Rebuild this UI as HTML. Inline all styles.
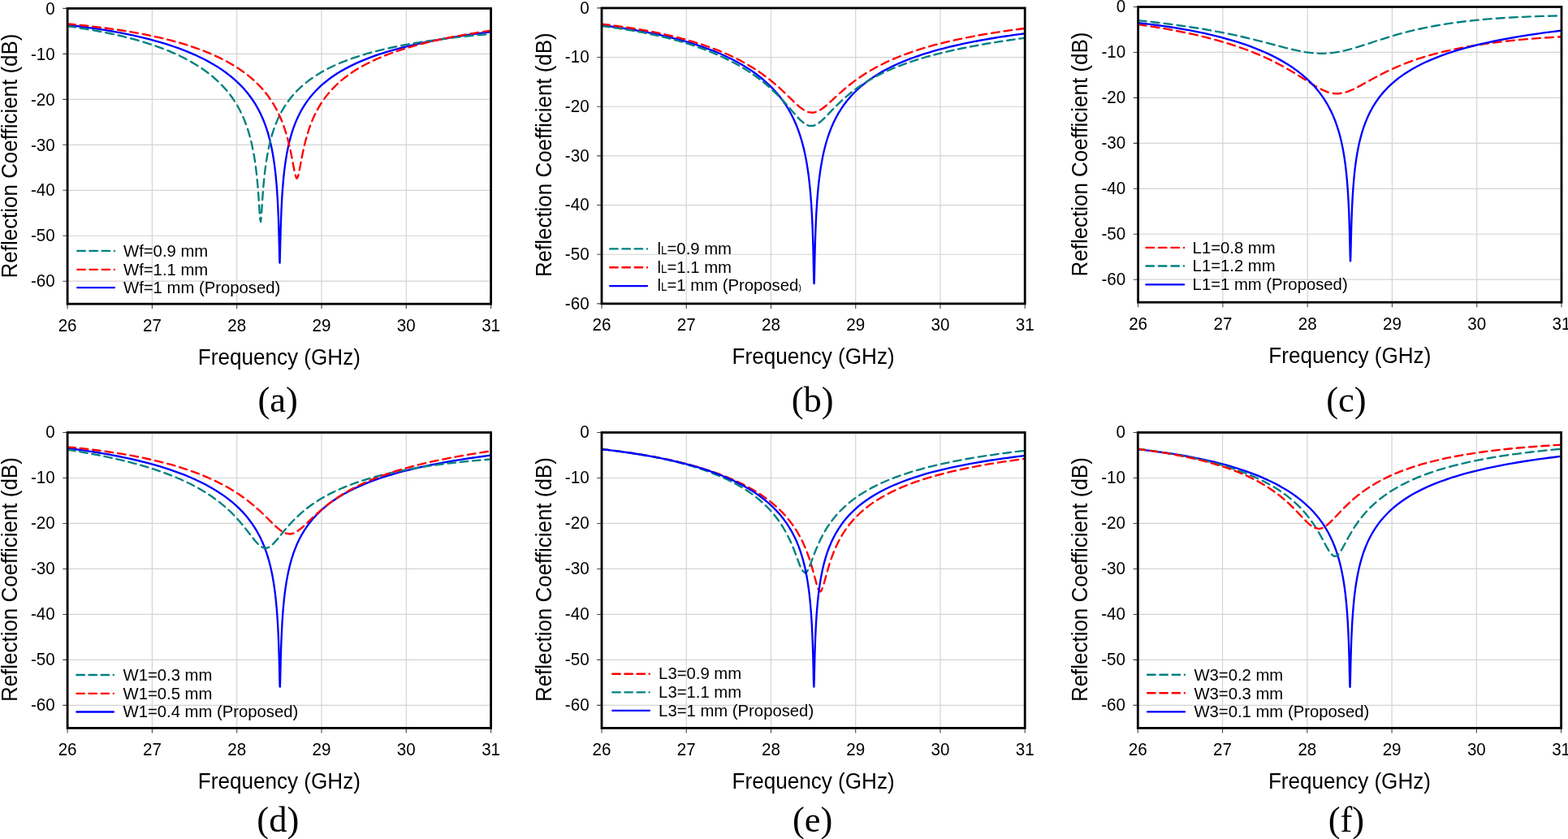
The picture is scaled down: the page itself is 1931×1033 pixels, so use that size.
<!DOCTYPE html>
<html lang="en"><head><meta charset="utf-8"><title>Reflection coefficient parametric study</title>
<style>html,body{margin:0;padding:0;background:#fff;overflow:hidden}svg{display:block}text{font-family:"Liberation Sans",Arial,Helvetica,sans-serif;fill:#000}.cap{font-family:"Liberation Serif","Times New Roman",serif}</style></head><body>
<svg width="1931" height="1033" viewBox="0 0 1931 1033">
<rect width="1931" height="1033" fill="#fff"/>
<g id="chart-a">
<clipPath id="clip-a"><rect x="83.1" y="10.4" width="521.5" height="363.8"/></clipPath>
<path d="M187.4 10.4V374.2M291.7 10.4V374.2M396 10.4V374.2M500.3 10.4V374.2M83.1 66.37H604.6M83.1 122.34H604.6M83.1 178.31H604.6M83.1 234.28H604.6M83.1 290.25H604.6M83.1 346.22H604.6" stroke="#d4d4d4" stroke-width="1.2" fill="none"/>
<path d="M83.1 374.2v6.0M187.4 374.2v6.0M291.7 374.2v6.0M396 374.2v6.0M500.3 374.2v6.0M604.6 374.2v6.0M83.1 10.4h-5.8M83.1 66.37h-5.8M83.1 122.34h-5.8M83.1 178.31h-5.8M83.1 234.28h-5.8M83.1 290.25h-5.8M83.1 346.22h-5.8" stroke="#444" stroke-width="1.1" fill="none"/>
<g clip-path="url(#clip-a)" fill="none" stroke-width="2.35" stroke-linejoin="round">
<path d="M83.10 30.76 L89.36 31.47 L95.62 32.23 L101.87 33.02 L108.13 33.86 L114.39 34.74 L120.65 35.66 L126.91 36.64 L133.16 37.66 L139.42 38.74 L145.68 39.88 L151.94 41.08 L158.20 42.35 L164.45 43.68 L170.71 45.09 L176.97 46.58 L183.23 48.15 L189.49 49.81 L195.74 51.56 L202.00 53.42 L208.26 55.40 L214.52 57.49 L220.78 59.71 L227.03 62.08 L233.29 64.61 L239.55 67.30 L245.81 70.20 L252.07 73.30 L258.32 76.65 L263.54 79.65 L268.75 82.87 L273.97 86.33 L279.18 90.07 L284.40 94.14 L289.61 98.59 L294.66 103.32 L299.00 107.80 L303.17 112.53 L307.11 117.46 L310.74 122.49 L314.14 127.70 L317.29 133.10 L320.22 138.70 L322.93 144.51 L325.43 150.56 L327.73 156.87 L329.84 163.44 L331.76 170.32 L333.23 176.30 L334.58 182.53 L335.82 189.03 L336.95 195.81 L337.98 202.92 L338.91 210.36 L339.58 216.59 L340.20 223.07 L340.72 229.22 L341.28 236.87 L341.75 244.22 L342.16 251.87 L342.54 259.82 L342.79 265.96 L343.02 272.23 L343.22 278.58 L343.41 284.95 L343.58 291.24 L343.73 297.33 L343.90 304.83 L344.05 311.25 L344.19 317.25 L344.42 323.32 L344.54 323.67 L344.80 317.27 L344.98 309.80 L345.13 303.08 L345.31 295.39 L345.47 289.23 L345.64 282.90 L345.84 276.54 L346.05 270.23 L346.29 264.01 L346.55 257.94 L346.93 250.08 L347.36 242.54 L347.83 235.30 L348.36 228.36 L348.94 221.72 L349.57 215.34 L350.26 209.22 L351.15 202.35 L352.04 196.30 L353.17 189.59 L354.41 183.17 L355.76 177.03 L357.23 171.14 L359.15 164.39 L361.26 157.95 L363.56 151.79 L366.06 145.90 L368.77 140.26 L371.70 134.84 L374.86 129.64 L378.25 124.64 L381.88 119.84 L385.77 115.21 L389.92 110.75 L394.33 106.45 L399.13 102.23 L404.34 98.06 L409.56 94.27 L414.77 90.80 L419.99 87.61 L426.25 84.09 L432.51 80.86 L438.76 77.88 L445.02 75.13 L451.28 72.57 L457.54 70.18 L463.79 67.95 L470.05 65.86 L476.31 63.89 L482.57 62.03 L488.83 60.28 L495.08 58.63 L501.34 57.05 L507.60 55.56 L513.86 54.14 L520.12 52.79 L526.38 51.51 L532.63 50.28 L538.89 49.10 L545.15 47.98 L551.41 46.90 L557.67 45.87 L563.92 44.87 L570.18 43.92 L576.44 43.00 L582.70 42.12 L588.96 41.27 L595.21 40.45 L601.47 39.66 L604.60 39.28" stroke="#0000ff"/>
<path d="M83.10 32.26 L89.36 33.14 L95.62 34.07 L101.87 35.05 L108.13 36.07 L114.39 37.15 L120.65 38.29 L126.91 39.49 L133.16 40.76 L139.42 42.09 L145.68 43.50 L151.94 44.98 L158.20 46.55 L164.45 48.20 L170.71 49.96 L176.97 51.81 L183.23 53.78 L189.49 55.86 L195.74 58.08 L202.00 60.44 L208.26 62.95 L214.52 65.64 L220.78 68.51 L227.03 71.60 L233.29 74.93 L238.51 77.91 L243.72 81.09 L248.94 84.52 L254.15 88.21 L259.37 92.22 L264.58 96.60 L269.53 101.15 L273.97 105.62 L278.14 110.23 L282.25 115.23 L285.97 120.23 L289.44 125.41 L292.67 130.76 L295.68 136.31 L298.46 142.06 L301.03 148.03 L303.40 154.23 L305.57 160.69 L307.34 166.68 L309.07 173.25 L310.46 179.30 L311.75 185.56 L312.92 192.06 L313.99 198.80 L314.95 205.77 L315.69 211.75 L316.46 218.86 L317.04 224.85 L317.57 230.89 L318.04 236.90 L318.57 244.26 L319.03 251.19 L319.42 257.42 L319.82 263.56 L320.27 269.59 L321.08 273.15 L321.77 266.79 L322.18 260.81 L322.61 253.94 L323.05 247.29 L323.55 240.11 L324.03 233.73 L324.63 226.69 L325.35 219.26 L326.12 212.22 L327.04 204.90 L328.03 198.07 L329.12 191.47 L330.29 185.22 L331.61 179.02 L333.03 173.15 L334.90 166.39 L336.94 159.93 L339.18 153.76 L341.61 147.85 L344.25 142.18 L347.11 136.75 L350.19 131.54 L353.50 126.54 L357.41 121.27 L361.51 116.35 L365.62 111.93 L369.93 107.73 L375.14 103.16 L380.36 99.05 L385.57 95.32 L390.78 91.91 L396.00 88.79 L402.26 85.35 L408.52 82.22 L414.77 79.34 L421.03 76.68 L427.29 74.22 L433.55 71.94 L439.81 69.82 L446.06 67.83 L452.32 65.98 L458.58 64.23 L464.84 62.60 L471.10 61.06 L477.35 59.61 L483.61 58.23 L489.87 56.94 L496.13 55.71 L502.39 54.55 L508.64 53.44 L514.90 52.40 L521.16 51.40 L527.42 50.45 L533.68 49.55 L539.93 48.69 L546.19 47.87 L552.45 47.08 L558.71 46.34 L564.97 45.62 L571.22 44.94 L577.48 44.28 L583.74 43.66 L590.00 43.06 L596.26 42.48 L602.51 41.93 L604.60 41.75" stroke="#008080" stroke-dasharray="9.88 6.01" stroke-linecap="round"/>
<path d="M83.10 29.38 L89.36 29.96 L95.62 30.58 L101.87 31.22 L108.13 31.90 L114.39 32.62 L120.65 33.37 L126.91 34.15 L133.16 34.98 L139.42 35.86 L145.68 36.78 L151.94 37.74 L158.20 38.76 L164.45 39.83 L170.71 40.96 L176.97 42.16 L183.23 43.41 L189.49 44.74 L195.74 46.14 L202.00 47.62 L208.26 49.18 L214.52 50.84 L220.78 52.59 L227.03 54.45 L233.29 56.43 L239.55 58.53 L245.81 60.76 L252.07 63.15 L258.32 65.70 L264.58 68.43 L270.84 71.37 L277.10 74.53 L283.36 77.96 L288.57 81.04 L293.79 84.36 L299.00 87.94 L304.22 91.83 L309.43 96.08 L314.17 100.31 L318.68 104.72 L322.92 109.28 L326.89 113.98 L330.61 118.83 L334.08 123.84 L337.31 129.01 L340.32 134.35 L343.10 139.86 L345.67 145.55 L348.02 151.36 L350.11 157.12 L352.19 163.58 L354.00 169.85 L355.63 176.19 L357.10 182.53 L358.42 188.75 L359.59 194.73 L360.79 201.17 L361.95 207.47 L363.21 213.79 L365.13 219.51 L365.96 219.52 L366.95 217.43 L368.41 211.38 L369.55 205.40 L370.79 198.68 L372.01 192.28 L373.31 185.94 L374.70 179.70 L376.18 173.68 L377.97 167.15 L379.87 161.00 L381.94 154.98 L384.21 149.12 L386.61 143.58 L389.35 137.94 L392.25 132.61 L395.36 127.47 L399.13 121.91 L402.93 116.90 L406.82 112.28 L410.97 107.81 L415.38 103.50 L419.99 99.40 L425.20 95.18 L430.42 91.34 L435.63 87.81 L440.85 84.56 L446.06 81.55 L452.32 78.21 L458.58 75.13 L464.84 72.27 L471.10 69.62 L477.35 67.14 L483.61 64.82 L489.87 62.65 L496.13 60.60 L502.39 58.67 L508.64 56.85 L514.90 55.13 L521.16 53.49 L527.42 51.94 L533.68 50.46 L539.93 49.05 L546.19 47.71 L552.45 46.43 L558.71 45.20 L564.97 44.03 L571.22 42.91 L577.48 41.83 L583.74 40.80 L590.00 39.80 L596.26 38.85 L602.51 37.93 L604.60 37.63" stroke="#ff0000" stroke-dasharray="9.68 5.89" stroke-linecap="round"/>
</g>
<rect x="83.1" y="10.4" width="521.5" height="363.8" fill="none" stroke="#000" stroke-width="2.8"/>
<text transform="translate(83.1 407.6) scale(1 1.09)" font-size="20.6" text-anchor="middle">26</text>
<text transform="translate(187.4 407.6) scale(1 1.09)" font-size="20.6" text-anchor="middle">27</text>
<text transform="translate(291.7 407.6) scale(1 1.09)" font-size="20.6" text-anchor="middle">28</text>
<text transform="translate(396 407.6) scale(1 1.09)" font-size="20.6" text-anchor="middle">29</text>
<text transform="translate(500.3 407.6) scale(1 1.09)" font-size="20.6" text-anchor="middle">30</text>
<text transform="translate(604.6 407.6) scale(1 1.09)" font-size="20.6" text-anchor="middle">31</text>
<text transform="translate(67.7 17.6) scale(1 1.09)" font-size="20.6" text-anchor="end">0</text>
<text transform="translate(67.7 73.57) scale(1 1.09)" font-size="20.6" text-anchor="end">-10</text>
<text transform="translate(67.7 129.54) scale(1 1.09)" font-size="20.6" text-anchor="end">-20</text>
<text transform="translate(67.7 185.51) scale(1 1.09)" font-size="20.6" text-anchor="end">-30</text>
<text transform="translate(67.7 241.48) scale(1 1.09)" font-size="20.6" text-anchor="end">-40</text>
<text transform="translate(67.7 297.45) scale(1 1.09)" font-size="20.6" text-anchor="end">-50</text>
<text transform="translate(67.7 353.42) scale(1 1.09)" font-size="20.6" text-anchor="end">-60</text>
<text transform="translate(343.85 448.6) scale(1 1.05)" font-size="26.1" text-anchor="middle">Frequency (GHz)</text>
<text transform="translate(20.8 192) rotate(-90) scale(1 1.05)" font-size="25.950000000000003" text-anchor="middle">Reflection Coefficient (dB)</text>
<path d="M95.27 308.9h45.65" stroke="#008080" stroke-width="2.35" fill="none" stroke-linecap="round" stroke-dasharray="9.5 5.68"/>
<text transform="translate(152 316.1) scale(1 1.04)" font-size="20.3">Wf=0.9 mm</text>
<path d="M95.27 331.8h45.65" stroke="#ff0000" stroke-width="2.35" fill="none" stroke-linecap="round" stroke-dasharray="9.5 5.68"/>
<text transform="translate(152 338.6) scale(1 1.04)" font-size="20.3">Wf=1.1 mm</text>
<path d="M95.27 354.1h45.65" stroke="#0000ff" stroke-width="2.35" fill="none" stroke-linecap="round"/>
<text transform="translate(152 361) scale(1 1.04)" font-size="20.3">Wf=1 mm (Proposed)</text>
<text class="cap" transform="translate(342.2 506.8)" font-size="44.5" text-anchor="middle">(a)</text>
</g>
<g id="chart-b">
<clipPath id="clip-b"><rect x="741" y="9.9" width="521.2" height="364"/></clipPath>
<path d="M845.24 9.9V373.9M949.48 9.9V373.9M1053.72 9.9V373.9M1157.96 9.9V373.9M741 70.57H1262.2M741 131.23H1262.2M741 191.9H1262.2M741 252.57H1262.2M741 313.23H1262.2" stroke="#d4d4d4" stroke-width="1.2" fill="none"/>
<path d="M741 373.9v6.0M845.24 373.9v6.0M949.48 373.9v6.0M1053.72 373.9v6.0M1157.96 373.9v6.0M1262.2 373.9v6.0M741 9.9h-5.8M741 70.57h-5.8M741 131.23h-5.8M741 191.9h-5.8M741 252.57h-5.8M741 313.23h-5.8M741 373.9h-5.8" stroke="#444" stroke-width="1.1" fill="none"/>
<g clip-path="url(#clip-b)" fill="none" stroke-width="2.35" stroke-linejoin="round">
<path d="M741.00 31.15 L747.25 31.94 L753.51 32.77 L759.76 33.64 L766.02 34.55 L772.27 35.51 L778.53 36.53 L784.78 37.59 L791.04 38.71 L797.29 39.89 L803.54 41.14 L809.80 42.44 L816.05 43.82 L822.31 45.28 L828.56 46.81 L834.82 48.43 L841.07 50.14 L847.32 51.94 L853.58 53.85 L859.83 55.88 L866.09 58.02 L872.34 60.29 L878.60 62.70 L884.85 65.27 L891.11 68.01 L897.36 70.94 L903.61 74.07 L909.87 77.43 L915.08 80.43 L920.29 83.64 L925.50 87.07 L930.72 90.76 L935.93 94.74 L941.14 99.06 L946.35 103.77 L951.21 108.58 L955.71 113.48 L959.90 118.48 L963.92 123.76 L967.63 129.15 L971.10 134.74 L974.33 140.53 L977.34 146.52 L980.12 152.75 L982.69 159.23 L984.92 165.57 L986.87 171.80 L988.56 177.86 L990.13 184.14 L991.57 190.68 L992.90 197.49 L994.11 204.59 L995.22 212.02 L996.03 218.21 L996.78 224.63 L997.43 230.86 L998.11 238.28 L998.69 245.53 L999.21 253.08 L999.69 260.97 L1000.01 267.10 L1000.31 273.41 L1000.59 279.91 L1000.84 286.57 L1001.07 293.38 L1001.28 300.28 L1001.46 307.20 L1001.63 314.05 L1001.78 320.67 L1001.91 326.89 L1002.07 334.24 L1002.22 341.32 L1002.39 347.46 L1002.63 349.08 L1002.85 342.44 L1003.00 335.89 L1003.14 328.89 L1003.27 322.85 L1003.41 316.35 L1003.57 309.57 L1003.76 302.68 L1003.96 295.77 L1004.18 288.95 L1004.42 282.25 L1004.69 275.71 L1004.98 269.36 L1005.30 263.19 L1005.76 255.26 L1006.27 247.66 L1006.81 240.69 L1007.46 233.39 L1008.13 226.68 L1008.87 220.25 L1009.67 214.06 L1010.53 208.10 L1011.70 200.96 L1012.98 194.12 L1014.38 187.58 L1015.89 181.31 L1017.53 175.28 L1019.30 169.48 L1021.41 163.35 L1023.67 157.48 L1026.34 151.32 L1029.23 145.41 L1032.35 139.74 L1035.70 134.29 L1039.13 129.28 L1043.13 124.01 L1047.23 119.15 L1051.60 114.47 L1055.80 110.37 L1061.02 105.74 L1066.23 101.54 L1071.44 97.70 L1076.65 94.17 L1081.86 90.91 L1087.08 87.88 L1093.33 84.52 L1099.59 81.41 L1105.84 78.53 L1112.09 75.85 L1118.35 73.35 L1124.60 71.01 L1130.86 68.81 L1137.11 66.74 L1143.37 64.79 L1149.62 62.95 L1155.88 61.21 L1162.13 59.55 L1168.38 57.98 L1174.64 56.49 L1180.89 55.06 L1187.15 53.71 L1193.40 52.41 L1199.66 51.17 L1205.91 49.99 L1212.16 48.85 L1218.42 47.76 L1224.67 46.72 L1230.93 45.71 L1237.18 44.75 L1243.44 43.82 L1249.69 42.93 L1255.95 42.06 L1262.20 41.23" stroke="#0000ff"/>
<path d="M741.00 32.12 L747.25 32.92 L753.51 33.76 L759.76 34.65 L766.02 35.60 L772.27 36.59 L778.53 37.65 L784.78 38.76 L791.04 39.93 L797.29 41.17 L803.54 42.48 L809.80 43.87 L816.05 45.33 L822.31 46.87 L828.56 48.49 L834.82 50.21 L841.07 52.03 L847.32 53.94 L853.58 55.97 L859.83 58.11 L866.09 60.37 L872.34 62.77 L878.60 65.31 L884.85 68.00 L891.11 70.86 L897.36 73.89 L903.61 77.13 L909.87 80.58 L915.08 83.63 L920.29 86.87 L925.50 90.29 L930.72 93.94 L935.93 97.81 L941.14 101.94 L946.25 106.26 L950.80 110.35 L955.73 115.06 L960.37 119.75 L964.64 124.30 L969.10 129.27 L973.16 133.92 L977.25 138.66 L981.25 143.20 L985.64 147.82 L990.39 151.92 L995.73 154.72 L1001.34 154.96 L1005.49 153.34 L1010.20 150.04 L1014.76 145.89 L1019.06 141.53 L1023.49 136.91 L1028.17 132.07 L1032.69 127.57 L1037.64 122.90 L1042.25 118.81 L1047.42 114.52 L1052.68 110.46 L1057.89 106.72 L1063.10 103.24 L1068.31 99.99 L1073.53 96.95 L1079.78 93.56 L1086.03 90.41 L1092.29 87.48 L1098.54 84.75 L1104.80 82.19 L1111.05 79.79 L1117.31 77.54 L1123.56 75.41 L1129.82 73.40 L1136.07 71.50 L1142.32 69.70 L1148.58 67.98 L1154.83 66.36 L1161.09 64.80 L1167.34 63.32 L1173.60 61.90 L1179.85 60.55 L1186.10 59.25 L1192.36 58.00 L1198.61 56.80 L1204.87 55.64 L1211.12 54.53 L1217.38 53.46 L1223.63 52.43 L1229.89 51.43 L1236.14 50.46 L1242.39 49.52 L1248.65 48.61 L1254.90 47.73 L1261.16 46.87 L1262.20 46.73" stroke="#008080" stroke-dasharray="9.48 5.76" stroke-linecap="round"/>
<path d="M741.00 29.57 L747.25 30.33 L753.51 31.13 L759.76 31.97 L766.02 32.85 L772.27 33.78 L778.53 34.75 L784.78 35.78 L791.04 36.86 L797.29 37.99 L803.54 39.18 L809.80 40.44 L816.05 41.76 L822.31 43.16 L828.56 44.63 L834.82 46.18 L841.07 47.81 L847.32 49.54 L853.58 51.36 L859.83 53.29 L866.09 55.33 L872.34 57.49 L878.60 59.78 L884.85 62.21 L891.11 64.79 L897.36 67.54 L903.61 70.46 L909.87 73.58 L916.12 76.92 L922.38 80.49 L927.59 83.67 L932.80 87.04 L938.01 90.62 L943.23 94.43 L948.28 98.35 L953.51 102.66 L958.37 106.89 L962.88 111.00 L967.61 115.48 L971.92 119.67 L976.29 123.92 L980.75 128.15 L985.31 132.11 L990.22 135.65 L995.76 138.20 L1001.76 138.71 L1006.95 137.18 L1012.34 133.99 L1017.12 130.25 L1022.05 125.89 L1026.62 121.67 L1031.07 117.56 L1035.75 113.33 L1040.87 108.88 L1045.73 104.87 L1050.59 101.08 L1055.80 97.26 L1061.02 93.66 L1066.23 90.29 L1071.44 87.13 L1076.65 84.15 L1082.91 80.80 L1089.16 77.69 L1095.42 74.78 L1101.67 72.05 L1107.92 69.49 L1114.18 67.09 L1120.43 64.83 L1126.69 62.69 L1132.94 60.68 L1139.20 58.77 L1145.45 56.96 L1151.71 55.24 L1157.96 53.61 L1164.21 52.06 L1170.47 50.58 L1176.72 49.17 L1182.98 47.83 L1189.23 46.54 L1195.49 45.32 L1201.74 44.14 L1208.00 43.01 L1214.25 41.93 L1220.50 40.89 L1226.76 39.90 L1233.01 38.94 L1239.27 38.02 L1245.52 37.13 L1251.78 36.28 L1258.03 35.46 L1262.20 34.92" stroke="#ff0000" stroke-dasharray="9.77 5.94" stroke-linecap="round"/>
</g>
<rect x="741" y="9.9" width="521.2" height="364" fill="none" stroke="#000" stroke-width="2.8"/>
<text transform="translate(741 407.3) scale(1 1.09)" font-size="20.6" text-anchor="middle">26</text>
<text transform="translate(845.24 407.3) scale(1 1.09)" font-size="20.6" text-anchor="middle">27</text>
<text transform="translate(949.48 407.3) scale(1 1.09)" font-size="20.6" text-anchor="middle">28</text>
<text transform="translate(1053.72 407.3) scale(1 1.09)" font-size="20.6" text-anchor="middle">29</text>
<text transform="translate(1157.96 407.3) scale(1 1.09)" font-size="20.6" text-anchor="middle">30</text>
<text transform="translate(1262.2 407.3) scale(1 1.09)" font-size="20.6" text-anchor="middle">31</text>
<text transform="translate(725.6 16.5) scale(1 1.09)" font-size="20.6" text-anchor="end">0</text>
<text transform="translate(725.6 77.17) scale(1 1.09)" font-size="20.6" text-anchor="end">-10</text>
<text transform="translate(725.6 137.83) scale(1 1.09)" font-size="20.6" text-anchor="end">-20</text>
<text transform="translate(725.6 198.5) scale(1 1.09)" font-size="20.6" text-anchor="end">-30</text>
<text transform="translate(725.6 259.17) scale(1 1.09)" font-size="20.6" text-anchor="end">-40</text>
<text transform="translate(725.6 319.83) scale(1 1.09)" font-size="20.6" text-anchor="end">-50</text>
<text transform="translate(725.6 380.5) scale(1 1.09)" font-size="20.6" text-anchor="end">-60</text>
<text transform="translate(1001.6 448.3) scale(1 1.05)" font-size="26.1" text-anchor="middle">Frequency (GHz)</text>
<text transform="translate(678.7 190.7) rotate(-90) scale(1 1.05)" font-size="25.950000000000003" text-anchor="middle">Reflection Coefficient (dB)</text>
<path d="M751.17 306.4h45.85" stroke="#008080" stroke-width="2.35" fill="none" stroke-linecap="round" stroke-dasharray="9.5 5.75"/>
<text transform="translate(809.5 313.2) scale(1 1.04)" font-size="20.3">l<tspan font-size="13.5">L</tspan>=0.9 mm</text>
<path d="M751.17 329.2h45.85" stroke="#ff0000" stroke-width="2.35" fill="none" stroke-linecap="round" stroke-dasharray="9.5 5.75"/>
<text transform="translate(809.5 336.1) scale(1 1.04)" font-size="20.3">l<tspan font-size="13.5">L</tspan>=1.1 mm</text>
<path d="M751.17 352.1h45.85" stroke="#0000ff" stroke-width="2.35" fill="none" stroke-linecap="round"/>
<text transform="translate(809.5 358.4) scale(1 1.04)" font-size="20.3">l<tspan font-size="13.5">L</tspan>=1 mm (Proposed<tspan font-size="11">)</tspan></text>
<text class="cap" transform="translate(1000.7 506.8)" font-size="44.5" text-anchor="middle">(b)</text>
</g>
<g id="chart-c">
<clipPath id="clip-c"><rect x="1401.6" y="8.5" width="521.4" height="363.7"/></clipPath>
<path d="M1505.88 8.5V372.2M1610.16 8.5V372.2M1714.44 8.5V372.2M1818.72 8.5V372.2M1401.6 64.45H1923M1401.6 120.41H1923M1401.6 176.36H1923M1401.6 232.32H1923M1401.6 288.27H1923M1401.6 344.22H1923" stroke="#d4d4d4" stroke-width="1.2" fill="none"/>
<path d="M1401.6 372.2v6.0M1505.88 372.2v6.0M1610.16 372.2v6.0M1714.44 372.2v6.0M1818.72 372.2v6.0M1923 372.2v6.0M1401.6 8.5h-5.8M1401.6 64.45h-5.8M1401.6 120.41h-5.8M1401.6 176.36h-5.8M1401.6 232.32h-5.8M1401.6 288.27h-5.8M1401.6 344.22h-5.8" stroke="#444" stroke-width="1.1" fill="none"/>
<g clip-path="url(#clip-c)" fill="none" stroke-width="2.35" stroke-linejoin="round">
<path d="M1401.60 30.12 L1407.86 31.03 L1414.11 31.98 L1420.37 32.96 L1426.63 33.98 L1432.88 35.05 L1439.14 36.15 L1445.40 37.31 L1451.65 38.52 L1457.91 39.78 L1464.17 41.09 L1470.42 42.47 L1476.68 43.91 L1482.94 45.41 L1489.20 46.99 L1495.45 48.65 L1501.71 50.38 L1507.97 52.21 L1514.22 54.12 L1520.48 56.14 L1526.74 58.26 L1532.99 60.50 L1539.25 62.86 L1545.51 65.34 L1551.76 67.97 L1558.02 70.74 L1564.28 73.68 L1570.53 76.77 L1576.79 80.04 L1583.05 83.47 L1588.26 86.47 L1593.48 89.58 L1598.69 92.78 L1603.90 96.06 L1609.06 99.33 L1614.29 102.63 L1619.49 105.79 L1624.76 108.77 L1630.21 111.44 L1636.04 113.64 L1641.98 114.97 L1648.06 115.25 L1654.11 114.42 L1660.19 112.62 L1665.90 110.25 L1671.40 107.56 L1676.90 104.62 L1682.58 101.47 L1688.37 98.25 L1694.27 95.02 L1699.84 92.08 L1706.10 88.92 L1712.35 85.92 L1718.61 83.09 L1724.87 80.43 L1731.12 77.93 L1737.38 75.59 L1743.64 73.39 L1749.90 71.33 L1756.15 69.40 L1762.41 67.59 L1768.67 65.89 L1774.92 64.30 L1781.18 62.80 L1787.44 61.39 L1793.69 60.07 L1799.95 58.83 L1806.21 57.66 L1812.46 56.56 L1818.72 55.53 L1824.98 54.56 L1831.23 53.65 L1837.49 52.79 L1843.75 51.99 L1850.00 51.23 L1856.26 50.52 L1862.52 49.86 L1868.77 49.23 L1875.03 48.65 L1881.29 48.10 L1887.54 47.59 L1893.80 47.11 L1900.06 46.66 L1906.32 46.25 L1912.57 45.86 L1918.83 45.50 L1923.00 45.28" stroke="#ff0000" stroke-dasharray="9.99 6.08" stroke-linecap="round"/>
<path d="M1401.60 25.14 L1407.86 25.81 L1414.11 26.51 L1420.37 27.23 L1426.63 27.98 L1432.88 28.75 L1439.14 29.54 L1445.40 30.37 L1451.65 31.22 L1457.91 32.11 L1464.17 33.03 L1470.42 33.99 L1476.68 34.99 L1482.94 36.02 L1489.20 37.10 L1495.45 38.23 L1501.71 39.40 L1507.97 40.62 L1514.22 41.89 L1520.48 43.22 L1526.74 44.59 L1532.99 46.02 L1539.25 47.51 L1545.51 49.04 L1551.76 50.61 L1558.02 52.23 L1564.28 53.87 L1570.53 55.53 L1576.79 57.18 L1583.05 58.79 L1589.06 60.29 L1594.99 61.67 L1600.91 62.92 L1607.03 64.04 L1613.29 64.94 L1619.33 65.53 L1625.46 65.82 L1631.46 65.78 L1637.45 65.40 L1643.53 64.68 L1649.50 63.67 L1655.71 62.33 L1661.65 60.84 L1667.51 59.19 L1673.64 57.34 L1679.96 55.34 L1686.28 53.29 L1692.54 51.25 L1698.80 49.23 L1705.05 47.26 L1711.31 45.34 L1717.57 43.49 L1723.83 41.72 L1730.08 40.04 L1736.34 38.44 L1742.60 36.93 L1748.85 35.51 L1755.11 34.17 L1761.37 32.92 L1767.62 31.74 L1773.88 30.65 L1780.14 29.63 L1786.39 28.68 L1792.65 27.79 L1798.91 26.97 L1805.16 26.21 L1811.42 25.51 L1817.68 24.85 L1823.93 24.25 L1830.19 23.70 L1836.45 23.18 L1842.70 22.71 L1848.96 22.28 L1855.22 21.88 L1861.47 21.52 L1867.73 21.19 L1873.99 20.89 L1880.25 20.61 L1886.50 20.37 L1892.76 20.15 L1899.02 19.95 L1905.27 19.77 L1911.53 19.62 L1917.79 19.48 L1923.00 19.38" stroke="#008080" stroke-dasharray="10 6.08" stroke-linecap="round"/>
<path d="M1401.60 28.19 L1407.86 28.89 L1414.11 29.63 L1420.37 30.41 L1426.63 31.23 L1432.88 32.09 L1439.14 33.00 L1445.40 33.96 L1451.65 34.98 L1457.91 36.05 L1464.17 37.17 L1470.42 38.36 L1476.68 39.62 L1482.94 40.94 L1489.20 42.34 L1495.45 43.82 L1501.71 45.38 L1507.97 47.04 L1514.22 48.79 L1520.48 50.65 L1526.74 52.61 L1532.99 54.71 L1539.25 56.93 L1545.51 59.30 L1551.76 61.82 L1558.02 64.53 L1564.28 67.42 L1570.53 70.53 L1576.79 73.89 L1582.00 76.89 L1587.22 80.12 L1592.43 83.58 L1597.65 87.33 L1602.86 91.40 L1608.07 95.86 L1613.20 100.67 L1617.46 105.08 L1621.63 109.81 L1625.64 114.84 L1629.28 119.88 L1632.67 125.10 L1635.83 130.51 L1638.75 136.12 L1641.44 141.89 L1643.97 148.00 L1646.27 154.31 L1648.37 160.89 L1650.30 167.77 L1651.76 173.76 L1653.11 179.99 L1654.35 186.49 L1655.48 193.28 L1656.51 200.39 L1657.44 207.84 L1658.11 214.07 L1658.73 220.55 L1659.30 227.31 L1659.81 234.36 L1660.21 240.68 L1660.59 247.42 L1660.98 255.31 L1661.23 261.41 L1661.47 267.65 L1661.69 274.00 L1661.88 280.40 L1662.05 286.76 L1662.21 292.97 L1662.39 300.74 L1662.54 307.54 L1662.69 314.11 L1662.88 320.19 L1663.09 321.45 L1663.33 315.16 L1663.47 309.07 L1663.62 302.59 L1663.79 295.03 L1663.94 288.92 L1664.11 282.60 L1664.30 276.22 L1664.50 269.86 L1664.73 263.60 L1664.98 257.46 L1665.36 249.53 L1665.77 241.90 L1666.24 234.59 L1666.75 227.58 L1667.32 220.86 L1667.94 214.42 L1668.61 208.24 L1669.54 200.86 L1670.57 193.82 L1671.69 187.20 L1672.94 180.71 L1674.29 174.57 L1675.75 168.69 L1677.68 161.95 L1679.78 155.51 L1682.08 149.37 L1684.58 143.49 L1687.30 137.86 L1690.22 132.46 L1693.38 127.27 L1696.77 122.29 L1700.40 117.50 L1704.29 112.88 L1708.44 108.44 L1712.85 104.16 L1717.57 100.02 L1722.78 95.87 L1728.00 92.10 L1733.21 88.65 L1738.42 85.47 L1744.68 81.97 L1750.94 78.77 L1757.19 75.81 L1763.45 73.08 L1769.71 70.54 L1775.97 68.18 L1782.22 65.97 L1788.48 63.90 L1794.74 61.95 L1800.99 60.11 L1807.25 58.38 L1813.51 56.74 L1819.76 55.19 L1826.02 53.72 L1832.28 52.32 L1838.53 50.98 L1844.79 49.71 L1851.05 48.50 L1857.30 47.34 L1863.56 46.23 L1869.82 45.17 L1876.07 44.15 L1882.33 43.17 L1888.59 42.23 L1894.84 41.33 L1901.10 40.46 L1907.36 39.62 L1913.61 38.81 L1919.87 38.03 L1923.00 37.65" stroke="#0000ff"/>
</g>
<rect x="1401.6" y="8.5" width="521.4" height="363.7" fill="none" stroke="#000" stroke-width="2.8"/>
<text transform="translate(1401.6 405.6) scale(1 1.09)" font-size="20.6" text-anchor="middle">26</text>
<text transform="translate(1505.88 405.6) scale(1 1.09)" font-size="20.6" text-anchor="middle">27</text>
<text transform="translate(1610.16 405.6) scale(1 1.09)" font-size="20.6" text-anchor="middle">28</text>
<text transform="translate(1714.44 405.6) scale(1 1.09)" font-size="20.6" text-anchor="middle">29</text>
<text transform="translate(1818.72 405.6) scale(1 1.09)" font-size="20.6" text-anchor="middle">30</text>
<text transform="translate(1923 405.6) scale(1 1.09)" font-size="20.6" text-anchor="middle">31</text>
<text transform="translate(1386.2 14.8) scale(1 1.09)" font-size="20.6" text-anchor="end">0</text>
<text transform="translate(1386.2 70.75) scale(1 1.09)" font-size="20.6" text-anchor="end">-10</text>
<text transform="translate(1386.2 126.71) scale(1 1.09)" font-size="20.6" text-anchor="end">-20</text>
<text transform="translate(1386.2 182.66) scale(1 1.09)" font-size="20.6" text-anchor="end">-30</text>
<text transform="translate(1386.2 238.62) scale(1 1.09)" font-size="20.6" text-anchor="end">-40</text>
<text transform="translate(1386.2 294.57) scale(1 1.09)" font-size="20.6" text-anchor="end">-50</text>
<text transform="translate(1386.2 350.52) scale(1 1.09)" font-size="20.6" text-anchor="end">-60</text>
<text transform="translate(1662.3 446.6) scale(1 1.05)" font-size="26.1" text-anchor="middle">Frequency (GHz)</text>
<text transform="translate(1339.3 190.05) rotate(-90) scale(1 1.05)" font-size="25.950000000000003" text-anchor="middle">Reflection Coefficient (dB)</text>
<path d="M1411.47 304.9h46.55" stroke="#ff0000" stroke-width="2.35" fill="none" stroke-linecap="round" stroke-dasharray="9.5 5.98"/>
<text transform="translate(1468.6 311.8) scale(1 1.04)" font-size="20.3">L1=0.8 mm</text>
<path d="M1411.47 327.5h46.55" stroke="#008080" stroke-width="2.35" fill="none" stroke-linecap="round" stroke-dasharray="9.5 5.98"/>
<text transform="translate(1468.6 334.3) scale(1 1.04)" font-size="20.3">L1=1.2 mm</text>
<path d="M1411.47 350.3h46.55" stroke="#0000ff" stroke-width="2.35" fill="none" stroke-linecap="round"/>
<text transform="translate(1468.6 356.8) scale(1 1.04)" font-size="20.3">L1=1 mm (Proposed)</text>
<text class="cap" transform="translate(1657.9 506.8)" font-size="44.5" text-anchor="middle">(c)</text>
</g>
<g id="chart-d">
<clipPath id="clip-d"><rect x="83.1" y="532.5" width="521.5" height="363.9"/></clipPath>
<path d="M187.4 532.5V896.4M291.7 532.5V896.4M396 532.5V896.4M500.3 532.5V896.4M83.1 588.48H604.6M83.1 644.47H604.6M83.1 700.45H604.6M83.1 756.44H604.6M83.1 812.42H604.6M83.1 868.41H604.6" stroke="#d4d4d4" stroke-width="1.2" fill="none"/>
<path d="M83.1 896.4v6.0M187.4 896.4v6.0M291.7 896.4v6.0M396 896.4v6.0M500.3 896.4v6.0M604.6 896.4v6.0M83.1 532.5h-5.8M83.1 588.48h-5.8M83.1 644.47h-5.8M83.1 700.45h-5.8M83.1 756.44h-5.8M83.1 812.42h-5.8M83.1 868.41h-5.8" stroke="#444" stroke-width="1.1" fill="none"/>
<g clip-path="url(#clip-d)" fill="none" stroke-width="2.35" stroke-linejoin="round">
<path d="M83.10 551.90 L89.36 552.69 L95.62 553.52 L101.87 554.39 L108.13 555.30 L114.39 556.26 L120.65 557.26 L126.91 558.30 L133.16 559.40 L139.42 560.56 L145.68 561.77 L151.94 563.04 L158.20 564.37 L164.45 565.77 L170.71 567.25 L176.97 568.80 L183.23 570.43 L189.49 572.15 L195.74 573.96 L202.00 575.88 L208.26 577.90 L214.52 580.04 L220.78 582.31 L227.03 584.72 L233.29 587.28 L239.55 590.02 L245.81 592.94 L252.07 596.07 L258.32 599.44 L263.54 602.45 L268.75 605.68 L273.97 609.15 L279.18 612.89 L284.40 616.95 L289.61 621.39 L294.15 625.60 L298.61 630.15 L302.80 634.83 L306.73 639.68 L310.41 644.68 L313.84 649.86 L317.03 655.22 L320.00 660.79 L322.75 666.56 L325.28 672.57 L327.62 678.83 L329.75 685.35 L331.71 692.18 L333.20 698.11 L334.57 704.28 L335.83 710.72 L336.98 717.45 L338.03 724.48 L338.98 731.86 L339.67 738.02 L340.30 744.43 L340.88 751.11 L341.41 758.08 L341.89 765.34 L342.31 772.90 L342.70 780.77 L342.96 786.84 L343.19 793.05 L343.41 799.36 L343.60 805.69 L343.78 811.98 L343.93 818.09 L344.11 825.71 L344.26 832.32 L344.42 838.65 L344.62 844.75 L344.82 845.64 L345.08 838.67 L345.23 832.35 L345.38 825.74 L345.56 818.14 L345.72 812.04 L345.89 805.76 L346.09 799.43 L346.30 793.14 L346.54 786.95 L346.80 780.88 L347.18 773.05 L347.61 765.51 L348.02 759.17 L348.47 753.05 L349.04 746.33 L349.66 739.88 L350.34 733.70 L351.15 727.16 L352.08 720.65 L353.19 713.87 L354.40 707.39 L355.73 701.19 L357.18 695.24 L359.07 688.42 L361.14 681.92 L363.41 675.71 L365.75 670.05 L368.56 664.06 L371.45 658.60 L374.57 653.34 L377.92 648.29 L381.51 643.43 L385.36 638.75 L389.46 634.24 L393.83 629.89 L399.13 625.14 L404.34 620.92 L409.56 617.07 L414.77 613.55 L419.99 610.31 L425.20 607.31 L431.46 603.98 L437.72 600.90 L443.98 598.06 L450.24 595.42 L456.49 592.95 L462.75 590.64 L469.01 588.47 L475.27 586.43 L481.53 584.51 L487.78 582.69 L494.04 580.96 L500.30 579.33 L506.56 577.78 L512.82 576.30 L519.07 574.89 L525.33 573.55 L531.59 572.26 L537.85 571.04 L544.11 569.86 L550.36 568.74 L556.62 567.66 L562.88 566.62 L569.14 565.62 L575.40 564.66 L581.65 563.74 L587.91 562.85 L594.17 561.99 L600.43 561.16 L604.60 560.63" stroke="#0000ff"/>
<path d="M83.10 553.73 L89.36 554.71 L95.62 555.73 L101.87 556.79 L108.13 557.89 L114.39 559.04 L120.65 560.24 L126.91 561.48 L133.16 562.79 L139.42 564.15 L145.68 565.58 L151.94 567.07 L158.20 568.63 L164.45 570.27 L170.71 571.98 L176.97 573.79 L183.23 575.68 L189.49 577.68 L195.74 579.78 L202.00 582.00 L208.26 584.35 L214.52 586.84 L220.78 589.49 L227.03 592.30 L233.29 595.30 L239.55 598.51 L245.81 601.95 L251.02 605.01 L256.24 608.28 L261.45 611.78 L266.67 615.53 L271.88 619.57 L276.80 623.67 L281.93 628.28 L286.48 632.70 L290.66 637.04 L294.83 641.67 L298.93 646.51 L302.83 651.37 L306.77 656.45 L310.47 661.27 L314.51 666.30 L318.65 670.78 L323.66 674.29 L328.69 674.77 L332.05 673.28 L336.05 670.00 L340.31 665.37 L344.15 660.73 L348.02 655.95 L351.87 651.31 L355.92 646.63 L360.39 641.78 L364.66 637.48 L369.27 633.16 L374.10 628.99 L378.79 625.24 L384.53 621.03 L389.74 617.52 L394.96 614.27 L400.17 611.25 L406.43 607.91 L412.69 604.83 L418.95 601.99 L425.20 599.35 L431.46 596.91 L437.72 594.63 L443.98 592.50 L450.24 590.51 L456.49 588.65 L462.75 586.90 L469.01 585.26 L475.27 583.72 L481.53 582.26 L487.78 580.89 L494.04 579.60 L500.30 578.38 L506.56 577.22 L512.82 576.13 L519.07 575.10 L525.33 574.13 L531.59 573.20 L537.85 572.33 L544.11 571.50 L550.36 570.72 L556.62 569.97 L562.88 569.27 L569.14 568.60 L575.40 567.97 L581.65 567.37 L587.91 566.80 L594.17 566.26 L600.43 565.75 L604.60 565.43" stroke="#008080" stroke-dasharray="9.54 5.8" stroke-linecap="round"/>
<path d="M83.10 550.33 L89.36 550.94 L95.62 551.59 L101.87 552.27 L108.13 552.99 L114.39 553.74 L120.65 554.54 L126.91 555.38 L133.16 556.26 L139.42 557.19 L145.68 558.17 L151.94 559.21 L158.20 560.29 L164.45 561.44 L170.71 562.65 L176.97 563.92 L183.23 565.27 L189.49 566.69 L195.74 568.19 L202.00 569.77 L208.26 571.44 L214.52 573.21 L220.78 575.09 L227.03 577.07 L233.29 579.17 L239.55 581.40 L245.81 583.78 L252.07 586.30 L258.32 588.99 L264.58 591.87 L270.84 594.94 L277.10 598.24 L283.36 601.79 L288.57 604.95 L293.79 608.32 L299.00 611.91 L304.11 615.67 L309.40 619.83 L314.31 623.96 L318.82 627.96 L323.67 632.49 L328.03 636.73 L332.38 641.05 L336.80 645.42 L341.27 649.61 L345.94 653.40 L351.15 656.40 L357.08 657.50 L361.85 656.41 L366.97 653.53 L371.95 649.58 L376.55 645.39 L381.01 641.13 L385.54 636.80 L390.01 632.65 L394.92 628.30 L399.58 624.39 L404.34 620.62 L409.56 616.75 L414.77 613.14 L419.99 609.76 L425.20 606.59 L431.46 603.06 L437.72 599.77 L443.98 596.71 L450.24 593.85 L456.49 591.18 L462.75 588.67 L469.01 586.30 L475.27 584.08 L481.53 581.97 L487.78 579.98 L494.04 578.08 L500.30 576.29 L506.56 574.57 L512.82 572.94 L519.07 571.39 L525.33 569.90 L531.59 568.47 L537.85 567.11 L544.11 565.80 L550.36 564.54 L556.62 563.33 L562.88 562.17 L569.14 561.05 L575.40 559.97 L581.65 558.93 L587.91 557.92 L594.17 556.95 L600.43 556.01 L604.60 555.40" stroke="#ff0000" stroke-dasharray="9.7 5.9" stroke-linecap="round"/>
</g>
<rect x="83.1" y="532.5" width="521.5" height="363.9" fill="none" stroke="#000" stroke-width="2.8"/>
<text transform="translate(83.1 929.8) scale(1 1.09)" font-size="20.6" text-anchor="middle">26</text>
<text transform="translate(187.4 929.8) scale(1 1.09)" font-size="20.6" text-anchor="middle">27</text>
<text transform="translate(291.7 929.8) scale(1 1.09)" font-size="20.6" text-anchor="middle">28</text>
<text transform="translate(396 929.8) scale(1 1.09)" font-size="20.6" text-anchor="middle">29</text>
<text transform="translate(500.3 929.8) scale(1 1.09)" font-size="20.6" text-anchor="middle">30</text>
<text transform="translate(604.6 929.8) scale(1 1.09)" font-size="20.6" text-anchor="middle">31</text>
<text transform="translate(67.7 539.1) scale(1 1.09)" font-size="20.6" text-anchor="end">0</text>
<text transform="translate(67.7 595.08) scale(1 1.09)" font-size="20.6" text-anchor="end">-10</text>
<text transform="translate(67.7 651.07) scale(1 1.09)" font-size="20.6" text-anchor="end">-20</text>
<text transform="translate(67.7 707.05) scale(1 1.09)" font-size="20.6" text-anchor="end">-30</text>
<text transform="translate(67.7 763.04) scale(1 1.09)" font-size="20.6" text-anchor="end">-40</text>
<text transform="translate(67.7 819.02) scale(1 1.09)" font-size="20.6" text-anchor="end">-50</text>
<text transform="translate(67.7 875.01) scale(1 1.09)" font-size="20.6" text-anchor="end">-60</text>
<text transform="translate(343.85 970.8) scale(1 1.05)" font-size="26.1" text-anchor="middle">Frequency (GHz)</text>
<text transform="translate(20.8 713.65) rotate(-90) scale(1 1.05)" font-size="25.950000000000003" text-anchor="middle">Reflection Coefficient (dB)</text>
<path d="M94.38 831h45.45" stroke="#008080" stroke-width="2.35" fill="none" stroke-linecap="round" stroke-dasharray="9.5 5.62"/>
<text transform="translate(151.5 838) scale(1 1.04)" font-size="20.3">W1=0.3 mm</text>
<path d="M94.38 853.8h45.45" stroke="#ff0000" stroke-width="2.35" fill="none" stroke-linecap="round" stroke-dasharray="9.5 5.62"/>
<text transform="translate(151.5 860.8) scale(1 1.04)" font-size="20.3">W1=0.5 mm</text>
<path d="M94.38 876.5h45.45" stroke="#0000ff" stroke-width="2.35" fill="none" stroke-linecap="round"/>
<text transform="translate(151.5 883) scale(1 1.04)" font-size="20.3">W1=0.4 mm (Proposed)</text>
<text class="cap" transform="translate(342.3 1024.3)" font-size="44.5" text-anchor="middle">(d)</text>
</g>
<g id="chart-e">
<clipPath id="clip-e"><rect x="741" y="532.5" width="521.2" height="363.9"/></clipPath>
<path d="M845.24 532.5V896.4M949.48 532.5V896.4M1053.72 532.5V896.4M1157.96 532.5V896.4M741 588.48H1262.2M741 644.47H1262.2M741 700.45H1262.2M741 756.44H1262.2M741 812.42H1262.2M741 868.41H1262.2" stroke="#d4d4d4" stroke-width="1.2" fill="none"/>
<path d="M741 896.4v6.0M845.24 896.4v6.0M949.48 896.4v6.0M1053.72 896.4v6.0M1157.96 896.4v6.0M1262.2 896.4v6.0M741 532.5h-5.8M741 588.48h-5.8M741 644.47h-5.8M741 700.45h-5.8M741 756.44h-5.8M741 812.42h-5.8M741 868.41h-5.8" stroke="#444" stroke-width="1.1" fill="none"/>
<g clip-path="url(#clip-e)" fill="none" stroke-width="2.35" stroke-linejoin="round">
<path d="M741.00 553.04 L747.25 553.75 L753.51 554.50 L759.76 555.29 L766.02 556.12 L772.27 556.99 L778.53 557.91 L784.78 558.87 L791.04 559.88 L797.29 560.94 L803.54 562.05 L809.80 563.23 L816.05 564.46 L822.31 565.76 L828.56 567.12 L834.82 568.56 L841.07 570.08 L847.32 571.67 L853.58 573.36 L859.83 575.14 L866.09 577.02 L872.34 579.01 L878.60 581.11 L884.85 583.35 L891.11 585.72 L897.36 588.24 L903.61 590.93 L909.87 593.80 L916.12 596.88 L922.38 600.19 L928.63 603.77 L933.84 606.97 L939.06 610.41 L944.27 614.12 L949.48 618.14 L954.69 622.53 L959.47 626.92 L963.93 631.40 L968.12 636.00 L972.05 640.74 L975.72 645.60 L979.15 650.60 L982.34 655.74 L985.31 661.00 L988.05 666.36 L990.59 671.87 L992.92 677.44 L995.06 683.07 L997.32 689.65 L999.34 696.13 L1001.13 702.37 L1002.71 708.20 L1004.28 714.10 L1005.90 719.98 L1007.85 725.75 L1010.43 728.37 L1011.60 727.15 L1013.51 722.47 L1015.28 716.42 L1016.96 710.24 L1018.71 703.84 L1020.48 697.76 L1022.45 691.50 L1024.53 685.46 L1026.80 679.54 L1029.50 673.21 L1032.47 667.02 L1035.74 661.00 L1039.13 655.45 L1042.62 650.32 L1046.42 645.31 L1050.59 640.37 L1054.73 635.95 L1059.10 631.72 L1064.14 627.28 L1069.36 623.13 L1074.57 619.35 L1079.78 615.89 L1084.99 612.69 L1091.25 609.17 L1097.50 605.93 L1103.76 602.95 L1110.01 600.18 L1116.26 597.61 L1122.52 595.22 L1128.77 592.97 L1135.03 590.86 L1141.28 588.88 L1147.54 587.01 L1153.79 585.25 L1160.04 583.57 L1166.30 581.99 L1172.55 580.48 L1178.81 579.05 L1185.06 577.68 L1191.32 576.38 L1197.57 575.13 L1203.83 573.94 L1210.08 572.80 L1216.33 571.71 L1222.59 570.66 L1228.84 569.65 L1235.10 568.68 L1241.35 567.75 L1247.61 566.85 L1253.86 565.99 L1260.12 565.15 L1262.20 564.88" stroke="#ff0000" stroke-dasharray="9.75 5.93" stroke-linecap="round"/>
<path d="M741.00 553.05 L747.25 553.76 L753.51 554.52 L759.76 555.31 L766.02 556.15 L772.27 557.04 L778.53 557.97 L784.78 558.96 L791.04 560.00 L797.29 561.10 L803.54 562.27 L809.80 563.50 L816.05 564.80 L822.31 566.17 L828.56 567.63 L834.82 569.17 L841.07 570.81 L847.32 572.55 L853.58 574.39 L859.83 576.36 L866.09 578.44 L872.34 580.67 L878.60 583.05 L884.85 585.60 L891.11 588.33 L897.36 591.27 L903.61 594.44 L909.87 597.87 L915.08 600.96 L920.29 604.28 L925.50 607.86 L930.72 611.76 L935.93 616.00 L940.60 620.16 L945.06 624.50 L949.25 628.95 L953.18 633.51 L957.44 638.98 L960.95 643.95 L964.49 649.50 L967.84 655.32 L970.90 661.20 L973.68 667.09 L976.19 672.91 L978.45 678.55 L980.74 684.61 L982.84 690.34 L985.04 696.24 L987.45 701.79 L991.66 705.71 L993.32 704.46 L995.47 700.82 L997.89 695.04 L1000.09 689.18 L1002.43 682.91 L1004.73 677.06 L1007.21 671.16 L1009.83 665.42 L1012.73 659.65 L1015.91 653.93 L1019.32 648.41 L1023.18 642.80 L1027.30 637.45 L1031.76 632.26 L1036.00 627.80 L1040.99 623.06 L1046.42 618.40 L1051.64 614.35 L1056.85 610.66 L1062.06 607.26 L1067.27 604.12 L1073.53 600.65 L1079.78 597.46 L1086.03 594.51 L1092.29 591.78 L1098.54 589.24 L1104.80 586.87 L1111.05 584.65 L1117.31 582.56 L1123.56 580.60 L1129.82 578.76 L1136.07 577.01 L1142.32 575.36 L1148.58 573.79 L1154.83 572.30 L1161.09 570.89 L1167.34 569.54 L1173.60 568.26 L1179.85 567.03 L1186.10 565.86 L1192.36 564.74 L1198.61 563.67 L1204.87 562.64 L1211.12 561.65 L1217.38 560.70 L1223.63 559.79 L1229.89 558.91 L1236.14 558.06 L1242.39 557.25 L1248.65 556.46 L1254.90 555.70 L1261.16 554.97 L1262.20 554.85" stroke="#008080" stroke-dasharray="9.64 5.86" stroke-linecap="round"/>
<path d="M741.00 553.20 L747.25 553.91 L753.51 554.65 L759.76 555.43 L766.02 556.25 L772.27 557.11 L778.53 558.02 L784.78 558.97 L791.04 559.98 L797.29 561.04 L803.54 562.16 L809.80 563.34 L816.05 564.58 L822.31 565.89 L828.56 567.28 L834.82 568.74 L841.07 570.28 L847.32 571.92 L853.58 573.64 L859.83 575.48 L866.09 577.42 L872.34 579.48 L878.60 581.68 L884.85 584.02 L891.11 586.51 L897.36 589.18 L903.61 592.04 L909.87 595.11 L916.12 598.43 L921.34 601.41 L926.55 604.60 L931.76 608.03 L936.97 611.75 L942.18 615.78 L947.40 620.20 L952.52 624.99 L956.78 629.36 L960.95 634.07 L964.96 639.08 L968.60 644.10 L971.99 649.30 L975.14 654.69 L978.07 660.28 L980.75 666.03 L983.28 672.13 L985.58 678.43 L987.68 685.00 L989.61 691.87 L991.07 697.85 L992.42 704.08 L993.66 710.57 L994.79 717.36 L995.81 724.46 L996.74 731.91 L997.42 738.14 L998.04 744.62 L998.60 751.38 L999.12 758.43 L999.52 764.67 L999.90 771.50 L1000.28 779.39 L1000.54 785.49 L1000.78 791.74 L1000.99 798.09 L1001.19 804.49 L1001.36 810.86 L1001.52 817.08 L1001.70 824.86 L1001.85 831.68 L1002.00 838.26 L1002.19 844.35 L1002.40 845.62 L1002.63 839.31 L1002.78 833.21 L1002.92 826.71 L1003.10 819.14 L1003.25 813.01 L1003.41 806.69 L1003.60 800.30 L1003.81 793.93 L1004.04 787.66 L1004.29 781.52 L1004.66 773.58 L1005.08 765.95 L1005.54 758.62 L1006.05 751.60 L1006.62 744.88 L1007.24 738.43 L1007.92 732.24 L1008.84 724.85 L1009.87 717.81 L1010.98 711.20 L1012.24 704.67 L1013.59 698.52 L1015.05 692.63 L1016.98 685.86 L1019.08 679.42 L1021.38 673.25 L1023.88 667.36 L1026.59 661.70 L1029.52 656.28 L1032.67 651.08 L1036.06 646.07 L1039.70 641.26 L1043.58 636.62 L1047.73 632.15 L1052.14 627.85 L1056.85 623.69 L1062.06 619.51 L1067.27 615.71 L1072.48 612.24 L1077.70 609.03 L1083.95 605.51 L1090.20 602.27 L1096.46 599.30 L1102.71 596.54 L1108.97 593.98 L1115.22 591.60 L1121.48 589.37 L1127.73 587.28 L1133.98 585.32 L1140.24 583.48 L1146.49 581.73 L1152.75 580.08 L1159.00 578.52 L1165.26 577.04 L1171.51 575.64 L1177.77 574.30 L1184.02 573.03 L1190.27 571.82 L1196.53 570.66 L1202.78 569.55 L1209.04 568.49 L1215.29 567.47 L1221.55 566.50 L1227.80 565.57 L1234.06 564.67 L1240.31 563.81 L1246.56 562.98 L1252.82 562.18 L1259.07 561.41 L1262.20 561.04" stroke="#0000ff"/>
</g>
<rect x="741" y="532.5" width="521.2" height="363.9" fill="none" stroke="#000" stroke-width="2.8"/>
<text transform="translate(741 929.8) scale(1 1.09)" font-size="20.6" text-anchor="middle">26</text>
<text transform="translate(845.24 929.8) scale(1 1.09)" font-size="20.6" text-anchor="middle">27</text>
<text transform="translate(949.48 929.8) scale(1 1.09)" font-size="20.6" text-anchor="middle">28</text>
<text transform="translate(1053.72 929.8) scale(1 1.09)" font-size="20.6" text-anchor="middle">29</text>
<text transform="translate(1157.96 929.8) scale(1 1.09)" font-size="20.6" text-anchor="middle">30</text>
<text transform="translate(1262.2 929.8) scale(1 1.09)" font-size="20.6" text-anchor="middle">31</text>
<text transform="translate(725.6 539.1) scale(1 1.09)" font-size="20.6" text-anchor="end">0</text>
<text transform="translate(725.6 595.08) scale(1 1.09)" font-size="20.6" text-anchor="end">-10</text>
<text transform="translate(725.6 651.07) scale(1 1.09)" font-size="20.6" text-anchor="end">-20</text>
<text transform="translate(725.6 707.05) scale(1 1.09)" font-size="20.6" text-anchor="end">-30</text>
<text transform="translate(725.6 763.04) scale(1 1.09)" font-size="20.6" text-anchor="end">-40</text>
<text transform="translate(725.6 819.02) scale(1 1.09)" font-size="20.6" text-anchor="end">-50</text>
<text transform="translate(725.6 875.01) scale(1 1.09)" font-size="20.6" text-anchor="end">-60</text>
<text transform="translate(1001.6 970.8) scale(1 1.05)" font-size="26.1" text-anchor="middle">Frequency (GHz)</text>
<text transform="translate(678.7 713.65) rotate(-90) scale(1 1.05)" font-size="25.950000000000003" text-anchor="middle">Reflection Coefficient (dB)</text>
<path d="M754.27 829.7h45.45" stroke="#ff0000" stroke-width="2.35" fill="none" stroke-linecap="round" stroke-dasharray="9.5 5.62"/>
<text transform="translate(811.1 836.4) scale(1 1.04)" font-size="20.3">L3=0.9 mm</text>
<path d="M754.27 852.3h45.45" stroke="#008080" stroke-width="2.35" fill="none" stroke-linecap="round" stroke-dasharray="9.5 5.62"/>
<text transform="translate(811.1 859.2) scale(1 1.04)" font-size="20.3">L3=1.1 mm</text>
<path d="M754.27 874.8h45.45" stroke="#0000ff" stroke-width="2.35" fill="none" stroke-linecap="round"/>
<text transform="translate(811.1 881.5) scale(1 1.04)" font-size="20.3">L3=1 mm (Proposed)</text>
<text class="cap" transform="translate(1000.6 1024.3)" font-size="44.5" text-anchor="middle">(e)</text>
</g>
<g id="chart-f">
<clipPath id="clip-f"><rect x="1401.3" y="532.5" width="521.3" height="363.9"/></clipPath>
<path d="M1505.56 532.5V896.4M1609.82 532.5V896.4M1714.08 532.5V896.4M1818.34 532.5V896.4M1401.3 588.48H1922.6M1401.3 644.47H1922.6M1401.3 700.45H1922.6M1401.3 756.44H1922.6M1401.3 812.42H1922.6M1401.3 868.41H1922.6" stroke="#d4d4d4" stroke-width="1.2" fill="none"/>
<path d="M1401.3 896.4v6.0M1505.56 896.4v6.0M1609.82 896.4v6.0M1714.08 896.4v6.0M1818.34 896.4v6.0M1922.6 896.4v6.0M1401.3 532.5h-5.8M1401.3 588.48h-5.8M1401.3 644.47h-5.8M1401.3 700.45h-5.8M1401.3 756.44h-5.8M1401.3 812.42h-5.8M1401.3 868.41h-5.8" stroke="#444" stroke-width="1.1" fill="none"/>
<g clip-path="url(#clip-f)" fill="none" stroke-width="2.35" stroke-linejoin="round">
<path d="M1401.30 553.18 L1407.56 553.89 L1413.81 554.62 L1420.07 555.40 L1426.32 556.22 L1432.58 557.08 L1438.83 557.99 L1445.09 558.95 L1451.34 559.96 L1457.60 561.02 L1463.86 562.14 L1470.11 563.33 L1476.37 564.58 L1482.62 565.89 L1488.88 567.29 L1495.13 568.76 L1501.39 570.31 L1507.65 571.95 L1513.90 573.69 L1520.16 575.54 L1526.41 577.50 L1532.67 579.58 L1538.92 581.79 L1545.18 584.14 L1551.43 586.65 L1557.69 589.34 L1563.95 592.22 L1570.20 595.32 L1576.46 598.66 L1581.67 601.66 L1586.88 604.87 L1592.10 608.33 L1597.31 612.07 L1602.52 616.13 L1607.73 620.58 L1612.71 625.25 L1617.12 629.80 L1621.28 634.52 L1625.16 639.39 L1628.79 644.42 L1632.18 649.63 L1635.34 655.03 L1638.27 660.63 L1640.98 666.44 L1643.48 672.50 L1645.78 678.80 L1647.88 685.38 L1649.81 692.26 L1651.27 698.24 L1652.57 704.20 L1653.86 710.97 L1654.99 717.76 L1656.02 724.87 L1656.95 732.32 L1657.62 738.55 L1658.24 745.03 L1658.81 751.79 L1659.32 758.84 L1659.78 766.19 L1660.20 773.84 L1660.57 781.80 L1660.83 787.95 L1661.05 794.22 L1661.26 800.58 L1661.45 806.97 L1661.62 813.27 L1661.77 819.38 L1661.94 826.91 L1662.08 833.35 L1662.23 839.39 L1662.45 845.50 L1662.58 845.85 L1662.84 839.41 L1662.98 833.38 L1663.13 826.94 L1663.30 819.43 L1663.45 813.33 L1663.62 807.04 L1663.81 800.67 L1664.01 794.32 L1664.24 788.06 L1664.49 781.93 L1664.87 774.00 L1665.28 766.37 L1665.75 759.05 L1666.26 752.04 L1666.82 745.32 L1667.44 738.87 L1668.12 732.69 L1669.05 725.30 L1670.08 718.26 L1671.21 711.54 L1672.38 705.46 L1673.79 698.98 L1675.26 693.10 L1677.18 686.34 L1679.29 679.90 L1681.59 673.74 L1684.09 667.85 L1686.80 662.21 L1689.73 656.80 L1692.88 651.60 L1696.27 646.61 L1699.91 641.80 L1703.79 637.18 L1707.94 632.73 L1712.35 628.43 L1717.21 624.16 L1722.42 620.01 L1727.63 616.23 L1732.85 612.78 L1738.06 609.60 L1744.32 606.09 L1750.57 602.88 L1756.83 599.92 L1763.08 597.18 L1769.34 594.64 L1775.59 592.27 L1781.85 590.06 L1788.10 587.98 L1794.36 586.03 L1800.62 584.19 L1806.87 582.46 L1813.13 580.82 L1819.38 579.27 L1825.64 577.80 L1831.89 576.40 L1838.15 575.07 L1844.40 573.80 L1850.66 572.59 L1856.92 571.43 L1863.17 570.33 L1869.43 569.27 L1875.68 568.26 L1881.94 567.28 L1888.19 566.35 L1894.45 565.45 L1900.71 564.59 L1906.96 563.76 L1913.22 562.96 L1919.47 562.19 L1922.60 561.81" stroke="#0000ff"/>
<path d="M1401.30 552.74 L1407.56 553.54 L1413.81 554.38 L1420.07 555.26 L1426.32 556.19 L1432.58 557.16 L1438.83 558.18 L1445.09 559.24 L1451.34 560.37 L1457.60 561.55 L1463.86 562.79 L1470.11 564.10 L1476.37 565.48 L1482.62 566.94 L1488.88 568.47 L1495.13 570.10 L1501.39 571.82 L1507.65 573.65 L1513.90 575.59 L1520.16 577.65 L1526.41 579.85 L1532.67 582.19 L1538.92 584.70 L1545.18 587.38 L1551.43 590.27 L1557.69 593.39 L1563.95 596.76 L1569.16 599.80 L1574.37 603.06 L1579.58 606.59 L1584.80 610.41 L1590.01 614.57 L1594.85 618.79 L1599.22 622.94 L1603.56 627.44 L1607.73 632.15 L1611.90 637.32 L1615.69 642.47 L1619.17 647.62 L1622.36 652.71 L1625.46 658.02 L1628.58 663.69 L1631.49 669.14 L1634.51 674.73 L1637.78 680.13 L1641.95 684.54 L1645.18 684.89 L1647.51 683.35 L1650.63 679.39 L1653.82 674.01 L1656.74 668.64 L1659.59 663.36 L1662.57 658.04 L1665.91 652.43 L1669.25 647.22 L1673.18 641.58 L1677.07 636.52 L1681.29 631.51 L1685.84 626.59 L1690.76 621.79 L1695.26 617.77 L1700.53 613.48 L1705.74 609.60 L1710.95 606.04 L1716.17 602.75 L1721.38 599.70 L1727.63 596.33 L1733.89 593.22 L1740.14 590.35 L1746.40 587.69 L1752.66 585.22 L1758.91 582.91 L1765.17 580.76 L1771.42 578.74 L1777.68 576.84 L1783.93 575.07 L1790.19 573.39 L1796.45 571.81 L1802.70 570.32 L1808.96 568.92 L1815.21 567.58 L1821.47 566.32 L1827.72 565.13 L1833.98 564.00 L1840.23 562.92 L1846.49 561.90 L1852.75 560.93 L1859.00 560.01 L1865.26 559.13 L1871.51 558.29 L1877.77 557.49 L1884.02 556.73 L1890.28 556.01 L1896.53 555.32 L1902.79 554.65 L1909.05 554.02 L1915.30 553.42 L1921.56 552.84 L1922.60 552.75" stroke="#008080" stroke-dasharray="9.89 6.01" stroke-linecap="round"/>
<path d="M1401.30 552.88 L1407.56 553.69 L1413.81 554.55 L1420.07 555.45 L1426.32 556.40 L1432.58 557.40 L1438.83 558.45 L1445.09 559.56 L1451.34 560.73 L1457.60 561.96 L1463.86 563.27 L1470.11 564.66 L1476.37 566.12 L1482.62 567.68 L1488.88 569.34 L1495.13 571.10 L1501.39 572.98 L1507.65 574.99 L1513.90 577.14 L1520.16 579.44 L1526.41 581.91 L1532.67 584.57 L1538.92 587.44 L1545.18 590.54 L1551.43 593.90 L1556.65 596.93 L1561.86 600.18 L1567.07 603.68 L1572.29 607.46 L1577.15 611.26 L1582.07 615.38 L1586.63 619.47 L1591.05 623.70 L1595.78 628.46 L1600.20 633.11 L1604.54 637.72 L1608.78 642.09 L1613.29 646.26 L1618.41 649.75 L1624.26 651.18 L1628.75 650.12 L1633.15 647.45 L1637.97 643.25 L1642.27 638.90 L1646.43 634.46 L1650.69 629.94 L1654.90 625.60 L1659.52 621.06 L1663.93 616.98 L1668.69 612.85 L1673.42 609.03 L1678.63 605.11 L1683.84 601.49 L1689.06 598.12 L1694.27 595.00 L1700.53 591.53 L1706.78 588.34 L1713.04 585.40 L1719.29 582.68 L1725.55 580.16 L1731.80 577.82 L1738.06 575.64 L1744.32 573.62 L1750.57 571.73 L1756.83 569.96 L1763.08 568.31 L1769.34 566.77 L1775.59 565.32 L1781.85 563.96 L1788.10 562.69 L1794.36 561.49 L1800.62 560.36 L1806.87 559.31 L1813.13 558.31 L1819.38 557.37 L1825.64 556.49 L1831.89 555.65 L1838.15 554.87 L1844.40 554.12 L1850.66 553.42 L1856.92 552.76 L1863.17 552.13 L1869.43 551.54 L1875.68 550.98 L1881.94 550.46 L1888.19 549.96 L1894.45 549.48 L1900.71 549.04 L1906.96 548.61 L1913.22 548.21 L1919.47 547.83 L1922.60 547.65" stroke="#ff0000" stroke-dasharray="9.53 5.79" stroke-linecap="round"/>
</g>
<rect x="1401.3" y="532.5" width="521.3" height="363.9" fill="none" stroke="#000" stroke-width="2.8"/>
<text transform="translate(1401.3 929.8) scale(1 1.09)" font-size="20.6" text-anchor="middle">26</text>
<text transform="translate(1505.56 929.8) scale(1 1.09)" font-size="20.6" text-anchor="middle">27</text>
<text transform="translate(1609.82 929.8) scale(1 1.09)" font-size="20.6" text-anchor="middle">28</text>
<text transform="translate(1714.08 929.8) scale(1 1.09)" font-size="20.6" text-anchor="middle">29</text>
<text transform="translate(1818.34 929.8) scale(1 1.09)" font-size="20.6" text-anchor="middle">30</text>
<text transform="translate(1922.6 929.8) scale(1 1.09)" font-size="20.6" text-anchor="middle">31</text>
<text transform="translate(1385.9 539.1) scale(1 1.09)" font-size="20.6" text-anchor="end">0</text>
<text transform="translate(1385.9 595.08) scale(1 1.09)" font-size="20.6" text-anchor="end">-10</text>
<text transform="translate(1385.9 651.07) scale(1 1.09)" font-size="20.6" text-anchor="end">-20</text>
<text transform="translate(1385.9 707.05) scale(1 1.09)" font-size="20.6" text-anchor="end">-30</text>
<text transform="translate(1385.9 763.04) scale(1 1.09)" font-size="20.6" text-anchor="end">-40</text>
<text transform="translate(1385.9 819.02) scale(1 1.09)" font-size="20.6" text-anchor="end">-50</text>
<text transform="translate(1385.9 875.01) scale(1 1.09)" font-size="20.6" text-anchor="end">-60</text>
<text transform="translate(1661.95 970.8) scale(1 1.05)" font-size="26.1" text-anchor="middle">Frequency (GHz)</text>
<text transform="translate(1339 713.65) rotate(-90) scale(1 1.05)" font-size="25.950000000000003" text-anchor="middle">Reflection Coefficient (dB)</text>
<path d="M1413.17 830.7h45.75" stroke="#008080" stroke-width="2.35" fill="none" stroke-linecap="round" stroke-dasharray="9.5 5.72"/>
<text transform="translate(1470.4 838) scale(1 1.04)" font-size="20.3">W3=0.2 mm</text>
<path d="M1413.17 853.2h45.75" stroke="#ff0000" stroke-width="2.35" fill="none" stroke-linecap="round" stroke-dasharray="9.5 5.72"/>
<text transform="translate(1470.4 860.5) scale(1 1.04)" font-size="20.3">W3=0.3 mm</text>
<path d="M1413.17 876.3h45.75" stroke="#0000ff" stroke-width="2.35" fill="none" stroke-linecap="round"/>
<text transform="translate(1470.4 883) scale(1 1.04)" font-size="20.3">W3=0.1 mm (Proposed)</text>
<text class="cap" transform="translate(1657.9 1024.3)" font-size="44.5" text-anchor="middle">(f)</text>
</g>
</svg></body></html>
